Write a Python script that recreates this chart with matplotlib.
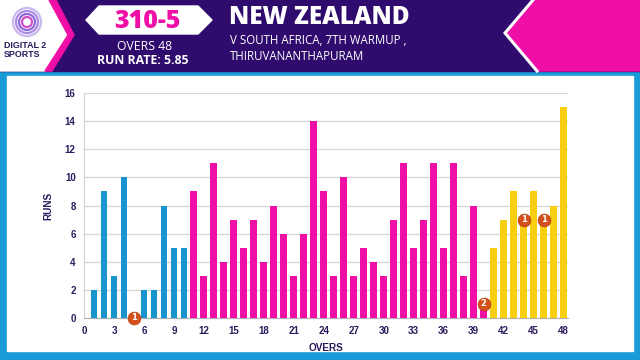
import matplotlib
matplotlib.use("Agg")
import matplotlib.pyplot as plt
from matplotlib.patches import Polygon, Rectangle, Circle
import numpy as np

# ---- data ----
overs = list(range(1, 49))
runs = [2, 9, 3, 10, 0, 2, 2, 8, 5, 5,
        9, 3, 11, 4, 7, 5, 7, 4, 8, 6,
        3, 6, 14, 9, 3, 10, 3, 5, 4, 3,
        7, 11, 5, 7, 11, 5, 11, 3, 8, 1,
        5, 7, 9, 7, 9, 7, 8, 15]
wicket_overs = [5, 40, 44, 46]
wicket_counts = [1, 2, 1, 1]
phase_ends = [10, 40, 48]
phase_colors = ["#1a94cf", "#f00fa6", "#f8cf10"]
x_ticks = list(range(0, 49, 3))
y_ticks = list(range(0, 17, 2))

team = "NEW ZEALAND"
subtitle = "V SOUTH AFRICA, 7TH WARMUP ,\nTHIRUVANANTHAPURAM"
score = "310-5"
overs_text = "OVERS 48"
run_rate = "RUN RATE: 5.85"

NAVY = "#2b1a5c"
PURPLE = "#2e0b6d"
PINK = "#f00fa6"
CYAN = "#1a9ad6"

fig = plt.figure(figsize=(6.4, 3.6), dpi=100)
bg = fig.add_axes([0, 0, 1, 1])
bg.set_xlim(0, 640)
bg.set_ylim(360, 0)
bg.axis("off")

# cyan frame + white panel
bg.add_patch(Rectangle((0, 70), 640, 290, color=CYAN, zorder=0))
bg.add_patch(Rectangle((7, 76), 626, 275, color="white", zorder=1))
# header purple
bg.add_patch(Rectangle((0, 0), 640, 71, color=PURPLE, zorder=1))
# left white region with pink chevron
bg.add_patch(Polygon([(0, 0), (49, 0), (68, 35), (45, 71), (0, 71)], closed=True,
                     color="white", zorder=2))
bg.add_patch(Polygon([(49, 0), (56, 0), (74, 35), (52, 71), (45, 71), (68, 35)],
                     closed=True, color=PINK, zorder=2))
# right pink block with white chevron
bg.add_patch(Polygon([(534, 0), (640, 0), (640, 71), (538, 71), (506, 34)],
                     closed=True, color=PINK, zorder=2))
bg.plot([533, 505, 537], [0, 33, 71], color="white", lw=2.2, zorder=3,
        solid_joinstyle="miter")

# logo
for r, c in [(14, "#c9b8f0"), (11, "#a98be6"), (8, "#8f6bd9"), (5, "#d04fc4")]:
    bg.add_patch(Circle((27, 22), r, facecolor="none", edgecolor=c, lw=1.6, zorder=3))
bg.text(4, 50, "DIGITAL 2\nSPORTS", fontsize=6.4, fontweight="bold", color=NAVY,
        va="center", ha="left", linespacing=0.95, zorder=4,
        family=["Liberation Sans", "DejaVu Sans"])

# score hexagon
bg.add_patch(Polygon([(86, 20), (99, 6), (198, 6), (212, 20), (198, 34), (99, 34)],
                     closed=True, color="white", zorder=3))
bg.text(147, 21, score, fontsize=18, fontweight="heavy", color=PINK,
        ha="center", va="center", zorder=4, family=["Open Sans", "DejaVu Sans"])
bg.text(145, 46, overs_text, fontsize=8.8, color="white", ha="center", va="center",
        zorder=4, family=["Open Sans", "DejaVu Sans"])
bg.text(143, 61, run_rate, fontsize=8.8, fontweight="bold", color="white",
        ha="center", va="center", zorder=4, family=["Open Sans", "DejaVu Sans"])

# title
bg.text(229, 18, team, fontsize=17.5, fontweight="heavy", color="white",
        ha="left", va="center", zorder=4, family=["Open Sans", "DejaVu Sans"])
bg.text(230, 48, subtitle, fontsize=8.3, color="white", ha="left", va="center",
        linespacing=1.3, zorder=4, family=["Open Sans", "DejaVu Sans"])

# ---- chart ----
ax = fig.add_axes([84 / 640, 1 - 318 / 360, (568 - 84) / 640, (318 - 93) / 360])
colors = []
for o in overs:
    for end, col in zip(phase_ends, phase_colors):
        if o <= end:
            colors.append(col)
            break
ax.bar(overs, runs, width=0.68, color=colors, zorder=3)
ax.set_xlim(0, 48.45)
ax.set_ylim(0, 16)
ax.set_yticks(y_ticks)
ax.set_xticks(x_ticks)
ax.yaxis.grid(True, color="#d8d8d8", lw=1, zorder=0)
ax.set_axisbelow(True)
for s in ["top", "right"]:
    ax.spines[s].set_visible(False)
ax.spines["left"].set_color("#d0d0d0")
ax.spines["bottom"].set_color("#b0b0b0")
ax.tick_params(length=0, labelsize=7, labelcolor=NAVY, pad=6)
for lab in ax.get_xticklabels() + ax.get_yticklabels():
    lab.set_fontweight("bold")
    lab.set_family(["Liberation Sans", "DejaVu Sans"])
ax.set_ylabel("RUNS", fontsize=7.2, fontweight="bold", color=NAVY, labelpad=8,
              family=["Liberation Sans", "DejaVu Sans"])
ax.set_xlabel("OVERS", fontsize=7.2, fontweight="bold", color=NAVY, labelpad=5,
              family=["Liberation Sans", "DejaVu Sans"])

wy = [runs[o - 1] for o in wicket_overs]
ax.scatter(wicket_overs, wy, s=85, color="#d4501c", edgecolor="#b8400f", lw=0.5,
           zorder=5, clip_on=False)
for o, y, n in zip(wicket_overs, wy, wicket_counts):
    ax.text(o, y, str(n), fontsize=6, fontweight="bold", color="white",
            ha="center", va="center", zorder=6, clip_on=False)

fig.savefig("out.png", dpi=100)
